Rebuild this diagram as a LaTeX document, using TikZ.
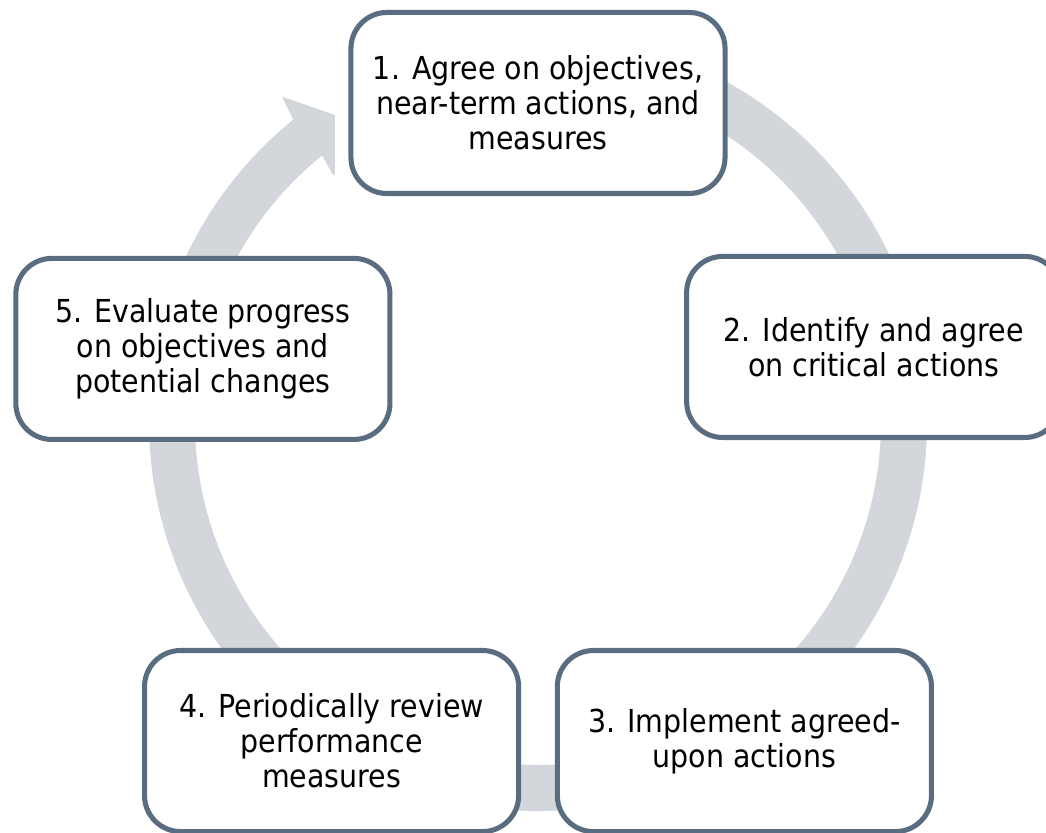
\documentclass[tikz,border=0pt]{standalone}
\usepackage{fontspec}
\setmainfont{DejaVu Sans Condensed}
\usepackage{tikz}
\definecolor{boxedge}{RGB}{89,108,128}
\definecolor{ringgrey}{RGB}{211,214,219}

\begin{document}
\begin{tikzpicture}[x=0.025cm, y=0.025cm,
    stagebox/.style={rectangle, rounded corners=0.9cm, draw=boxedge, line width=3.6pt,
      fill=white, minimum width=9.35cm, minimum height=4.525cm, align=center,
      font=\fontsize{22.5}{25}\selectfont}]
    \useasboundingbox (-538,-411) rectangle (508,422);
    \clip (-538,-411) rectangle (508,422);

    \coordinate (a0) at (0,0);

    % ring with arrowhead, clockwise
    \fill[ringgrey] (100:389) arc[start angle=100, end angle=-231, radius=389]
      -- (128.2:414) -- (-203,307) -- (-203,248) -- (129.7:321) -- (129:343)
      arc[start angle=-231, end angle=100, radius=343] -- cycle;

    \node[stagebox] (b1) at (90:319) {1. Agree on objectives,\\near-term actions, and\\measures};
    \node[stagebox] (b2) at (12.6:344) {2. Identify and agree\\on critical actions};
    \node[stagebox] (b3) at (-57.1:380) {3. Implement agreed-\\upon actions};
    \node[stagebox] (b4) at (237.1:380) {4. Periodically review\\performance\\measures};
    \node[stagebox] (b5) at (167.7:343) {5. Evaluate progress\\on objectives and\\potential changes};
  \end{tikzpicture}
\end{document}
